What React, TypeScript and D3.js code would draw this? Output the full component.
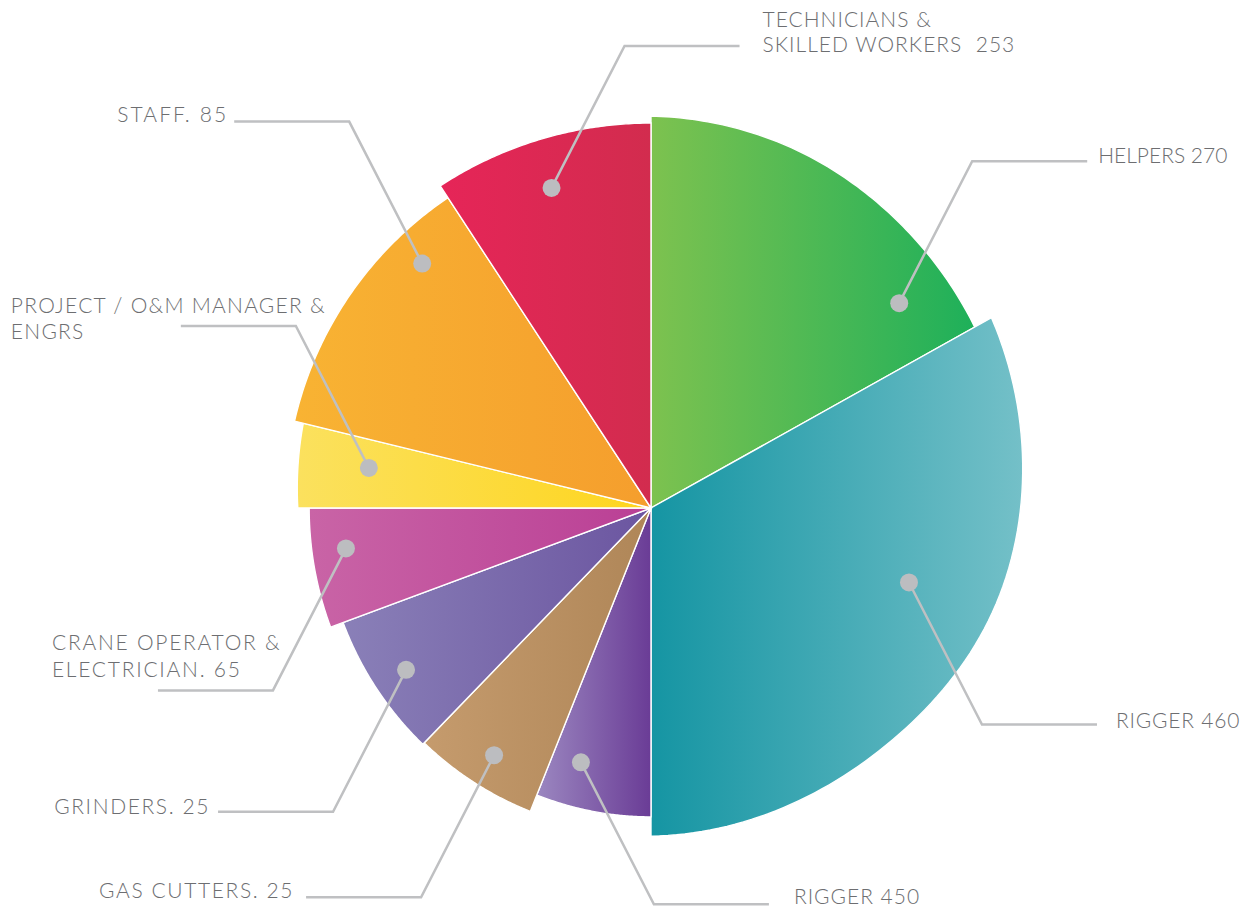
import React from 'react';
import * as d3 from 'd3';

// slices clockwise from 12 o'clock
const categories = [
  'Helpers', 'Rigger 460', 'Rigger 450', 'Gas cutters', 'Grinders',
  'Crane operator & electrician', 'Project / O&M manager & engrs', 'Staff', 'Technicians & skilled workers',
];
const labelLines = [
  ['HELPERS 270'],
  ['RIGGER 460'],
  ['RIGGER 450'],
  ['GAS CUTTERS. 25'],
  ['GRINDERS. 25'],
  ['CRANE OPERATOR &', 'ELECTRICIAN. 65'],
  ['PROJECT / O&M MANAGER &', 'ENGRS'],
  ['STAFF. 85'],
  ['TECHNICIANS &', 'SKILLED WORKERS  253'],
];
// angular share of each slice (degrees)
const angleShare = [60.8, 119.2, 21.7, 22.3, 25.6, 20.4, 13.7, 43.1, 33.2];
// depth of each slice (% of the biggest radius), from start to end of the slice
const depthProfile = [
  [100, 99, 96.4, 94.6],
  [99.5, 95.2, 91.1, 84.9, 83.2, 83.7],
  [78.8],
  [83.3],
  [83.8],
  [87.2],
  [90.1, 91.3],
  [93.6, 94.6],
  [98.2],
];
const colorFrom = ['#7dc24f', '#1595a3', '#9b87c0', '#c59b6d', '#8a80b8', '#c964a6', '#fbe15e', '#f8b333', '#e62558'];
const colorTo = ['#1eb05a', '#74c0c8', '#6a3c96', '#af8658', '#6b55a0', '#ba3f95', '#fed51e', '#f59e2d', '#d22c4e'];

// where the callout dot sits: [fraction of slice angle, depth %]
const dotAt = [
  [0.83, 82.1], [0.38, 68.5], [0.71, 67.3], [0.48, 74.7], [0.49, 74.9],
  [0.63, 78.5], [0.59, 72.7], [0.77, 85.4], [0.48, 85.5],
];
// leader direction [x, y] and text offset from the end of the leader
const leaderDir = [[1, -1], [1, 1], [1, 1], [-1, 1], [-1, 1], [-1, 1], [-1, -1], [-1, -1], [1, -1]];
const labelOffset = [
  { dx: 11, dy: [2], anchor: 'start', ls: 0 },
  { dx: 19, dy: [4], anchor: 'start', ls: 0.8 },
  { dx: 25, dy: [0], anchor: 'start', ls: 1 },
  { dx: -12, dy: [1], anchor: 'end', ls: 1.6 },
  { dx: -8, dy: [2], anchor: 'end', ls: 1.6 },
  { dx: -106, dy: [-40, -13], anchor: 'start', ls: 1.75 },
  { dx: -170, dy: [-13, 13], anchor: 'start', ls: 1.25 },
  { dx: -6, dy: [0], anchor: 'end', ls: 2.1 },
  { dx: 23, dy: [-19, 6], anchor: 'start', ls: 1 },
];

const W = 1252;
const H = 911;
const cx = 651;
const cy = 508;
const R = 392;

export default function App() {
  const rScale = d3.scaleLinear().domain([0, 100]).range([0, R]);
  const pie = d3.pie<number>().sort(null).value(d => d).startAngle(0).endAngle(2 * Math.PI);
  const arcs = pie(angleShare);

  const area = d3.areaRadial<{ a: number; r: number }>()
    .angle(p => p.a)
    .innerRadius(0)
    .outerRadius(p => p.r);

  const depthAt = (i: number, t: number) => {
    const prof = depthProfile[i];
    if (prof.length === 1) return prof[0];
    return d3.interpolateBasis(prof)(t);
  };

  const slices = arcs.map((a, i) => {
    const pts = d3.range(0, 81).map(k => {
      const t = k / 80;
      return { a: a.startAngle + (a.endAngle - a.startAngle) * t, r: rScale(depthAt(i, t)) };
    });
    return area(pts) as string;
  });

  const diag = { x: 73, y: 142 };
  const run = 115;

  const callouts = arcs.map((a, i) => {
    const [ft, depth] = dotAt[i];
    const ang = a.startAngle + (a.endAngle - a.startAngle) * ft;
    const r = rScale(depth);
    const x0 = cx + r * Math.sin(ang);
    const y0 = cy - r * Math.cos(ang);
    const [sx, sy] = leaderDir[i];
    const x1 = x0 + sx * diag.x;
    const y1 = y0 + sy * diag.y;
    const x2 = x1 + sx * run;
    return { x0, y0, x1, y1, x2, y2: y1 };
  });

  return (
    <svg width={W} height={H} style={{ position: 'absolute', left: 0, top: 0, background: '#fff' }}>
      <defs>
        {colorFrom.map((c, i) => (
          <linearGradient key={i} id={`grad${i}`} x1="0" y1="0" x2="1" y2="0">
            <stop offset="0" stopColor={c} />
            <stop offset="1" stopColor={colorTo[i]} />
          </linearGradient>
        ))}
      </defs>
      <g transform={`translate(${cx},${cy})`}>
        {slices.map((d, i) => (
          <path key={categories[i]} d={d} fill={`url(#grad${i})`} stroke="#fff" strokeWidth={1.4} strokeLinejoin="miter" />
        ))}
      </g>
      <g fill="none" stroke="#bfc0c2" strokeWidth={2.5}>
        {callouts.map((c, i) => (
          <polyline key={i} points={`${c.x0},${c.y0} ${c.x1},${c.y1} ${c.x2},${c.y2}`} />
        ))}
      </g>
      <g fill="#bcbdc0">
        {callouts.map((c, i) => (
          <circle key={i} cx={c.x0} cy={c.y0} r={9} />
        ))}
      </g>
      <g fontFamily="Lato, 'Open Sans', sans-serif" fontWeight={300} fontSize={21} fill="#6d6e71">
        {callouts.map((c, i) => {
          const o = labelOffset[i];
          return (
            <text key={i} x={c.x2 + o.dx} y={c.y2} textAnchor={o.anchor} letterSpacing={o.ls} style={{ whiteSpace: 'pre' }}>
              {labelLines[i].map((line, j) => (
                <tspan key={j} x={c.x2 + o.dx} y={c.y2 + o.dy[j]}>{line}</tspan>
              ))}
            </text>
          );
        })}
      </g>
    </svg>
  );
}
